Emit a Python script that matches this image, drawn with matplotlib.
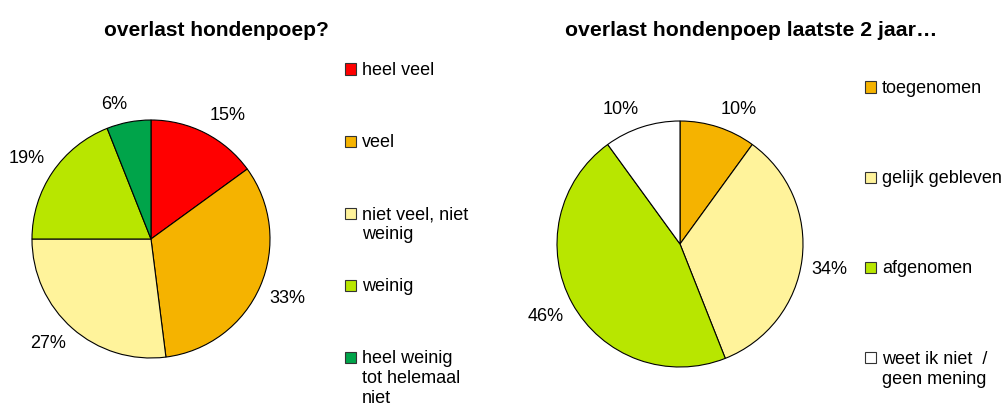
import numpy as np
import matplotlib.pyplot as plt
from matplotlib.patches import Rectangle

plt.rcParams["font.family"] = ["Liberation Sans", "DejaVu Sans"]

W, H = 1005, 404

# left chart: overlast hondenpoep?
left_title = "overlast hondenpoep?"
left_labels = ["heel veel", "veel", "niet veel, niet\nweinig", "weinig",
               "heel weinig\ntot helemaal\nniet"]
left_values = [15, 33, 27, 19, 6]
left_colors = ["#FF0000", "#F5B300", "#FFF39B", "#B8E600", "#00A44A"]

# right chart: laatste 2 jaar
right_title = "overlast hondenpoep laatste 2 jaar\u2026"
right_labels = ["toegenomen", "gelijk gebleven", "afgenomen",
                "weet ik niet  /\ngeen mening"]
right_values = [10, 34, 46, 10]
right_colors = ["#F5B300", "#FFF39B", "#B8E600", "#FFFFFF"]


def fx(x):
    return x / W


def fy(y):
    return 1 - y / H


def draw_pie(fig, cx, cy, r, values, colors):
    s = 1.3
    ax = fig.add_axes([fx(cx - s * r), fy(cy + s * r), 2 * s * r / W, 2 * s * r / H])
    wedges, _ = ax.pie(values, colors=colors, startangle=90, counterclock=False,
                       wedgeprops=dict(edgecolor="black", linewidth=0.8))
    ax.set_xlim(-s, s)
    ax.set_ylim(-s, s)
    ax.set_aspect("equal")
    ax.axis("off")
    total = float(sum(values))
    start = 0.0
    for v in values:
        mid = (start + v / 2) / total * 2 * np.pi
        start += v
        sx, cy_ = np.sin(mid), np.cos(mid)
        R = 1.08
        ax.text(R * sx, R * cy_, f"{v}%", fontsize=13,
                ha="left" if sx > 0 else "right",
                va="bottom" if cy_ > 0 else "top")
    return ax


def draw_legend(fig, x0, y0, step, labels, colors):
    line_h = 20
    for i, (lab, col) in enumerate(zip(labels, colors)):
        base = y0 + i * step
        fig.patches.append(Rectangle((fx(x0), fy(base - 0.5)), 11 / W, 11 / H,
                                     transform=fig.transFigure, facecolor=col,
                                     edgecolor="#333333", linewidth=0.8))
        for k, line in enumerate(lab.split("\n")):
            fig.text(fx(x0 + 17), fy(base + k * line_h), line, fontsize=13,
                     ha="left", va="baseline")


def main():
    fig = plt.figure(figsize=(W / 100, H / 100), dpi=100)

    draw_pie(fig, 151, 239, 119, left_values, left_colors)
    draw_pie(fig, 680, 244, 123, right_values, right_colors)

    fig.text(fx(216), fy(36), left_title, fontsize=15, fontweight="bold",
             ha="center", va="baseline")
    fig.text(fx(751), fy(36), right_title, fontsize=15.3, fontweight="bold",
             ha="center", va="baseline")

    draw_legend(fig, 345, 75, 72.1, left_labels, left_colors)
    draw_legend(fig, 865, 93, 90.2, right_labels, right_colors)

    fig.savefig("out.png", dpi=100)


if __name__ == "__main__":
    main()
